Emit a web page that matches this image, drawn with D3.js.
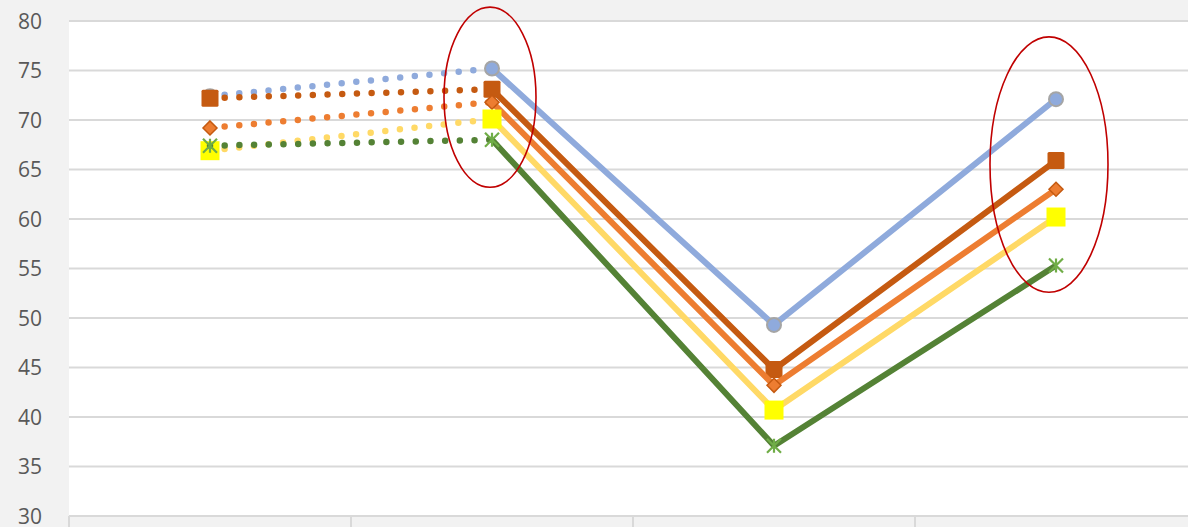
<!DOCTYPE html>
<html><head><meta charset="utf-8">
<script src="https://cdn.jsdelivr.net/npm/d3@7"></script>
<style>html,body{margin:0;padding:0;background:#f2f2f2;overflow:hidden}svg{display:block}</style>
</head><body>
<svg id="c" width="1188" height="527"></svg>
<script>
const categories = ["T1", "T2", "T3", "T4"];
const yTicks = [30, 35, 40, 45, 50, 55, 60, 65, 70, 75, 80];
const seriesNames = ["S1", "S2", "S3", "S4", "S5"];
const s1 = [72.4, 75.2, 49.3, 72.1];
const s2 = [72.2, 73.1, 44.8, 65.9];
const s3 = [69.2, 71.8, 43.2, 63.0];
const s4 = [66.9, 70.1, 40.7, 60.2];
const s5 = [67.4, 68.0, 37.1, 55.3];
// highlighted (category, value range) annotations
const highlightCats = ["T2", "T4"];
const highlightLow = [63.2, 52.6];
const highlightHigh = [81.4, 78.4];

(function () {
const svg = d3.select("#c");
const W = 1188, H = 527;
const mLeft = 69, mTop = 21, mBottom = 516;
const step = 282;
const x = d3.scaleBand().domain(categories).range([mLeft, mLeft + step * categories.length]);
const y = d3.scaleLinear().domain([30, 80]).range([mBottom, mTop]);
const cx = c => x(c) + x.bandwidth() / 2;

svg.append("rect").attr("x", mLeft).attr("y", mTop).attr("width", W - mLeft).attr("height", mBottom - mTop).attr("fill", "#ffffff");

svg.append("g").selectAll("line").data(yTicks).join("line")
  .attr("x1", mLeft).attr("x2", W).attr("y1", d => y(d)).attr("y2", d => y(d))
  .attr("stroke", "#d9d9d9").attr("stroke-width", 2);

svg.append("g").selectAll("line").data(categories).join("line")
  .attr("x1", d => x(d)).attr("x2", d => x(d)).attr("y1", mBottom).attr("y2", H)
  .attr("stroke", "#d9d9d9").attr("stroke-width", 2);

svg.append("g").selectAll("text").data(yTicks).join("text")
  .attr("x", 42).attr("y", d => y(d)).attr("dy", "0.36em").attr("text-anchor", "end")
  .attr("font-family", "'Open Sans', 'Noto Sans', sans-serif").attr("font-size", 21)
  .attr("fill", "#595959").text(d => d);

const series = [
  {vals: s1, line: "#8faadc", marker: "circle"},
  {vals: s2, line: "#c55a11", marker: "square"},
  {vals: s3, line: "#ed7d31", marker: "diamond"},
  {vals: s4, line: "#ffd966", marker: "ysquare"},
  {vals: s5, line: "#548235", marker: "star"}
];

const lineGen = d3.line().x(d => cx(d.c)).y(d => y(d.v));

series.forEach(s => {
  const pts = categories.map((c, i) => ({c, v: s.vals[i]}));
  const g = svg.append("g");
  g.append("path").attr("d", lineGen(pts.slice(0, 2))).attr("fill", "none")
    .attr("stroke", s.line).attr("stroke-width", 6.5).attr("stroke-linecap", "round")
    .attr("stroke-dasharray", "0 14.7");
  g.append("path").attr("d", lineGen(pts.slice(1))).attr("fill", "none")
    .attr("stroke", s.line).attr("stroke-width", 6).attr("stroke-linejoin", "round");
  pts.forEach(p => {
    const px = cx(p.c), py = y(p.v);
    if (s.marker === "circle") {
      g.append("circle").attr("cx", px).attr("cy", py).attr("r", 7)
        .attr("fill", "#8faadc").attr("stroke", "#a5a5a5").attr("stroke-width", 2);
    } else if (s.marker === "square") {
      g.append("rect").attr("x", px - 8.5).attr("y", py - 8.5).attr("width", 17).attr("height", 17)
        .attr("rx", 1.5).attr("fill", "#c55a11");
    } else if (s.marker === "diamond") {
      g.append("path").attr("d", `M${px},${py-7}L${px+7},${py}L${px},${py+7}L${px-7},${py}Z`)
        .attr("fill", "#ed7d31").attr("stroke", "#c55a11").attr("stroke-width", 1.5);
    } else if (s.marker === "ysquare") {
      g.append("rect").attr("x", px - 9.5).attr("y", py - 9.5).attr("width", 19).attr("height", 19)
        .attr("fill", "#ffff00");
    } else if (s.marker === "star") {
      const r = 7;
      const d = `M${px-r},${py-r}L${px+r},${py+r}M${px-r},${py+r}L${px+r},${py-r}M${px},${py-r}L${px},${py+r}`;
      g.append("path").attr("d", d).attr("stroke", "#70ad47").attr("stroke-width", 2.2).attr("fill", "none");
    }
  });
});

const ellRx = [46, 59];
highlightCats.forEach((c, i) => {
  const yT = y(highlightHigh[i]), yB = y(highlightLow[i]);
  svg.append("ellipse").attr("cx", cx(c) - 2 - 5 * i).attr("cy", (yT + yB) / 2)
    .attr("rx", ellRx[i]).attr("ry", (yB - yT) / 2)
    .attr("fill", "none").attr("stroke", "#c00000").attr("stroke-width", 1.6);
});
})();
</script>
</body></html>
